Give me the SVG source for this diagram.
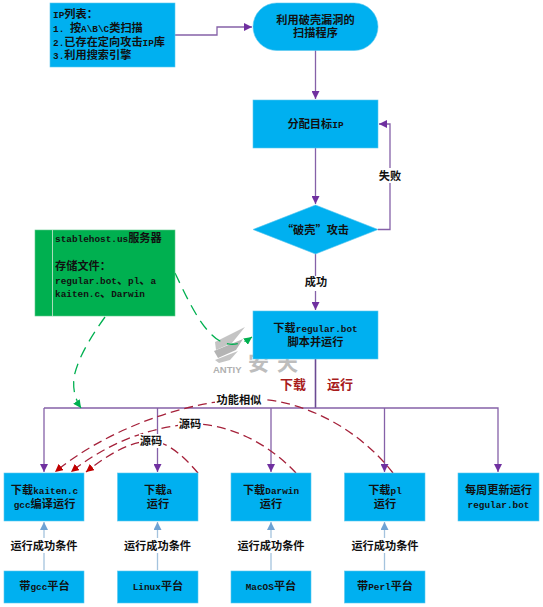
<svg xmlns="http://www.w3.org/2000/svg" width="543" height="607" viewBox="0 0 543 607">
<style>
text{font-family:"Noto Sans CJK SC","Liberation Mono",monospace;font-size:11.2px;font-weight:700;fill:#111}
tspan{font-family:"Liberation Mono",monospace;font-size:9.400px}
.c{text-anchor:middle}
.box{fill:#00b0f0;stroke:#5cc8ee;stroke-width:.6}
.p{fill:none;stroke:#8561a8;stroke-width:1.3}
.b{fill:none;stroke:#a4c3de;stroke-width:1.3}
.g{fill:none;stroke:#00b050;stroke-width:1.3;stroke-dasharray:11 7}
.r{fill:none;stroke:#a5213a;stroke-width:1.3;stroke-dasharray:9 5}
.lab{fill:#fff}
text.red{fill:#a81c1c;font-size:13px}
</style>
<defs>
<marker id="ap" markerUnits="userSpaceOnUse" markerWidth="9" markerHeight="8" refX="8" refY="4" orient="auto"><path d="M0 0L8 4L0 8Z" fill="#7030a0"/></marker>
<marker id="ab" markerUnits="userSpaceOnUse" markerWidth="9" markerHeight="8" refX="8" refY="4" orient="auto"><path d="M0 0L8 4L0 8Z" fill="#6ea2d4"/></marker>
<marker id="ag" markerUnits="userSpaceOnUse" markerWidth="9" markerHeight="8" refX="8" refY="4" orient="auto"><path d="M0 0L8 4L0 8Z" fill="#00b050"/></marker>
<marker id="ar" markerUnits="userSpaceOnUse" markerWidth="9" markerHeight="8" refX="8" refY="4" orient="auto"><path d="M0 0L8 4L0 8Z" fill="#c00000"/></marker>
</defs>
<g id="watermark" fill="#b4b4b4">
<path d="M215 342L245 327L232 343L216 350Z" fill="#c4c4c4"/>
<path d="M214 351L243 339L236 350L218 358Z"/>
<path d="M215 360L238 351L230 360L219 363Z" fill="#c4c4c4"/>
<text x="213" y="373" style="font-family:'Liberation Sans',sans-serif;font-size:9.500px;fill:#b0b0b0">ANTIY</text>
<text x="248" y="370" style="font-size:21px;fill:#bdbdbd;letter-spacing:8px">安天</text>
</g>
<g id="connectors">
<path class="p" d="M175 35H217V27H252" marker-end="url(#ap)"/>
<path class="p" d="M315.500 50V99" marker-end="url(#ap)"/>
<path class="p" d="M315.500 148V204" marker-end="url(#ap)"/>
<path class="p" d="M378 229.500H390V124H379" marker-end="url(#ap)"/>
<path class="p" d="M315.500 254V310" marker-end="url(#ap)"/>
<path class="p" d="M315.500 359V408" style="stroke:#6b4a93;stroke-width:1.6"/>
<path class="p" d="M44 408H498V472" marker-end="url(#ap)"/>
<path class="p" d="M44 408V472" marker-end="url(#ap)"/>
<path class="p" d="M157.500 408V472" marker-end="url(#ap)"/>
<path class="p" d="M271 408V472" marker-end="url(#ap)"/>
<path class="p" d="M384.500 408V472" marker-end="url(#ap)"/>
<path class="b" d="M44 570V522" marker-end="url(#ab)"/>
<path class="b" d="M157.500 570V522" marker-end="url(#ab)"/>
<path class="b" d="M271 570V522" marker-end="url(#ab)"/>
<path class="b" d="M384.500 570V522" marker-end="url(#ab)"/>
<path class="g" d="M175 273C186 296 198 322 212 335C224 347 238 347 252 337" marker-end="url(#ag)"/>
<path class="g" d="M105 317C90 338 78 358 74 377Q72 395 81 408" marker-end="url(#ag)"/>
<path class="r" d="M393 473C360 430 300 395 240 399C170 405 100 435 55 472" marker-end="url(#ar)"/>
<path class="r" d="M296 473C265 440 225 423 190 424C145 428 105 445 71 472" marker-end="url(#ar)"/>
<path class="r" d="M198 473C180 452 165 441 150 441C130 442 110 453 86 472" marker-end="url(#ar)"/>
</g>
<g id="n-iplist"><rect class="box" x="50" y="3" width="125" height="64"/>
<text x="53" y="18"><tspan>IP</tspan>列表：</text><text x="53" y="32"><tspan>1. </tspan>按<tspan>A\B\C</tspan>类扫描</text><text x="53" y="46"><tspan>2.</tspan>已存在定向攻击<tspan>IP</tspan>库</text><text x="53" y="59"><tspan>3.</tspan>利用搜索引擎</text></g>
<g id="n-scan"><rect class="box" x="253" y="3" width="125" height="47.500" rx="23.700"/>
<text class="c" x="315.500" y="24">利用破壳漏洞的</text><text class="c" x="315.500" y="37">扫描程序</text></g>
<g id="n-assign"><rect class="box" x="253" y="100" width="125" height="48"/>
<text class="c" x="315.500" y="128">分配目标<tspan>IP</tspan></text></g>
<g id="n-attack"><path class="box" d="M253 229.500L315.500 205L378 229.500L315.500 254Z"/>
<text class="c" x="315.500" y="233.500">“破壳”攻击</text></g>
<g id="n-server"><rect x="35" y="230" width="140" height="86" fill="#00b050" stroke="#5fc98a" stroke-width=".6"/><path d="M52.500 230V316" stroke="#a8dcb9" stroke-width="1"/>
<text x="55" y="242"><tspan>stablehost.us</tspan>服务器</text><text x="55" y="270">存储文件：</text><text x="55" y="284"><tspan>regular.bot</tspan>、<tspan>pl</tspan>、<tspan>a</tspan></text><text x="55" y="297"><tspan>kaiten.c</tspan>、<tspan>Darwin</tspan></text></g>
<g id="n-download"><rect class="box" x="253" y="311" width="125" height="48"/>
<text class="c" x="315.500" y="332">下载<tspan>regular.bot</tspan></text><text class="c" x="315.500" y="346">脚本并运行</text></g>
<g id="n-kaiten"><rect class="box" x="4" y="473" width="80" height="48"/>
<text class="c" x="44.500" y="494">下载<tspan>kaiten.c</tspan></text><text class="c" x="44.500" y="507.500"><tspan>gcc</tspan>编译运行</text></g>
<g id="n-a"><rect class="box" x="117.500" y="473" width="80.500" height="48"/>
<text class="c" x="158" y="494">下载<tspan>a</tspan></text><text class="c" x="158" y="507.500">运行</text></g>
<g id="n-darwin"><rect class="box" x="231" y="473" width="80" height="48"/>
<text class="c" x="271" y="494">下载<tspan>Darwin</tspan></text><text class="c" x="271" y="507.500">运行</text></g>
<g id="n-pl"><rect class="box" x="344.500" y="473" width="80.500" height="48"/>
<text class="c" x="385" y="494">下载<tspan>pl</tspan></text><text class="c" x="385" y="507.500">运行</text></g>
<g id="n-weekly"><rect class="box" x="458" y="473" width="81" height="48"/>
<text class="c" x="498.500" y="494">每周更新运行</text><text class="c" x="498.500" y="507.500"><tspan>regular.bot</tspan></text></g>
<g id="n-gcc"><rect class="box" x="4" y="571" width="80" height="32"/><text class="c" x="44.500" y="590">带<tspan>gcc</tspan>平台</text></g>
<g id="n-linux"><rect class="box" x="117.500" y="571" width="80.500" height="32"/><text class="c" x="158" y="590"><tspan>Linux</tspan>平台</text></g>
<g id="n-macos"><rect class="box" x="231" y="571" width="80" height="32"/><text class="c" x="271" y="590"><tspan>MacOS</tspan>平台</text></g>
<g id="n-perl"><rect class="box" x="344.500" y="571" width="80.500" height="32"/><text class="c" x="385" y="590">带<tspan>Perl</tspan>平台</text></g>
<g id="labels">
<rect class="lab" x="378" y="168" width="24" height="15"/><text class="c" x="390" y="180">失败</text>
<rect class="lab" x="303" y="276" width="25" height="15"/><text class="c" x="316" y="286">成功</text>
<text class="c red" x="293" y="389">下载</text><text class="c red" x="340" y="389">运行</text>
<rect class="lab" x="215" y="393" width="48" height="14"/><text class="c" x="239" y="404">功能相似</text>
<rect class="lab" x="178" y="418" width="24" height="14"/><text class="c" x="190" y="428">源码</text>
<rect class="lab" x="139" y="434" width="24" height="14"/><text class="c" x="151" y="445">源码</text>
<rect class="lab" x="9" y="538" width="70" height="15"/><text class="c" x="44" y="550">运行成功条件</text>
<rect class="lab" x="122" y="538" width="70" height="15"/><text class="c" x="157.500" y="550">运行成功条件</text>
<rect class="lab" x="236" y="538" width="70" height="15"/><text class="c" x="271" y="550">运行成功条件</text>
<rect class="lab" x="350" y="538" width="70" height="15"/><text class="c" x="385" y="550">运行成功条件</text>
</g>
</svg>
